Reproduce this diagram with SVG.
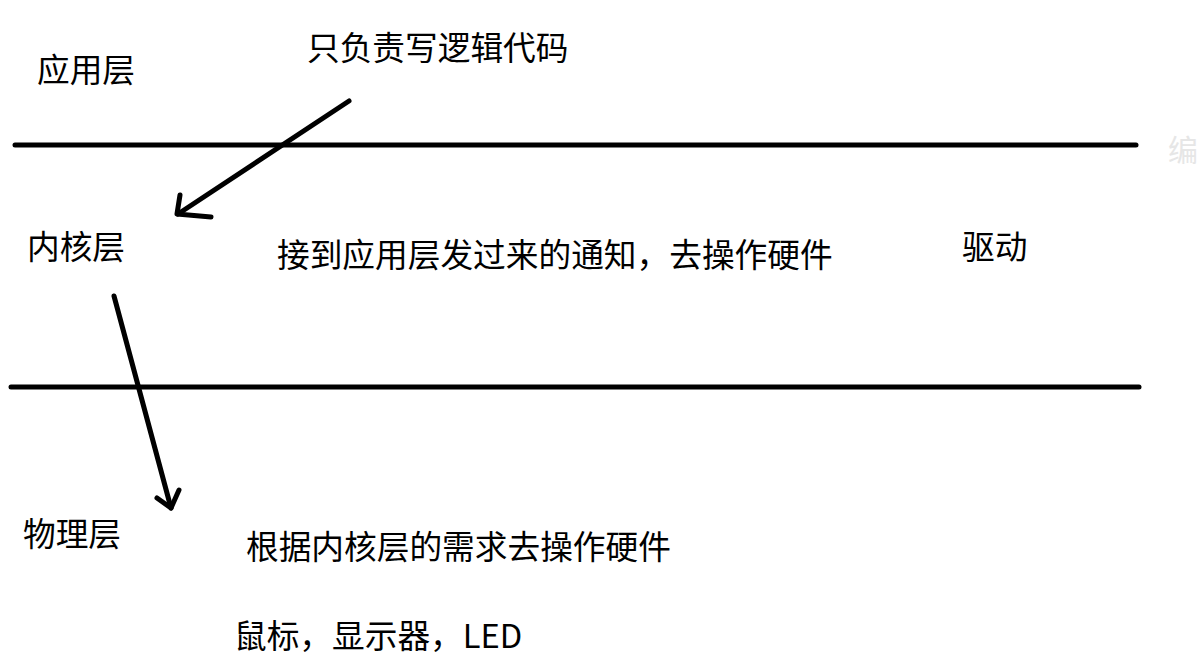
<svg xmlns="http://www.w3.org/2000/svg" width="1199" height="665" viewBox="0 0 1199 665">
<style>
.t{font-family:"Microsoft YaHei","Noto Sans CJK SC","Noto Sans",sans-serif;font-size:32.7px;fill:#000}
.ln{stroke:#000;stroke-width:5;stroke-linecap:round;fill:none}
.ar{stroke:#000;stroke-width:5;stroke-linecap:round;stroke-linejoin:round;fill:none}
</style>
<rect width="1199" height="665" fill="#fff"/>
<g id="dividers">
<line class="ln" x1="15" y1="145" x2="1136" y2="145"/>
<line class="ln" x1="11" y1="387" x2="1139" y2="387"/>
</g>
<g id="app-layer"><text class="t" x="37" y="82">应用层</text></g>
<g id="app-note"><text class="t" x="307" y="60">只负责写逻辑代码</text></g>
<g id="kernel-layer"><text class="t" x="27" y="259">内核层</text></g>
<g id="kernel-note"><text class="t" x="277" y="267">接到应用层发过来的通知，去操作硬件</text></g>
<g id="driver"><text class="t" x="962" y="259">驱动</text></g>
<g id="physical-layer"><text class="t" x="23" y="546">物理层</text></g>
<g id="physical-note"><text class="t" x="246" y="559">根据内核层的需求去操作硬件</text></g>
<g id="devices"><text class="t" x="234" y="648">鼠标，显示器，LED</text></g>
<g id="faint"><text class="t" x="1168" y="161" style="fill:#e6e6e6;font-size:30px">编</text></g>
<g id="connectors">
<path class="ar" d="M349,101 L178,214"/>
<path class="ar" d="M180,195 L177,214 L211,217"/>
<path class="ar" d="M114,296 L171,508"/>
<path class="ar" d="M157,498 L171,508 L179,490"/>
</g>
</svg>
